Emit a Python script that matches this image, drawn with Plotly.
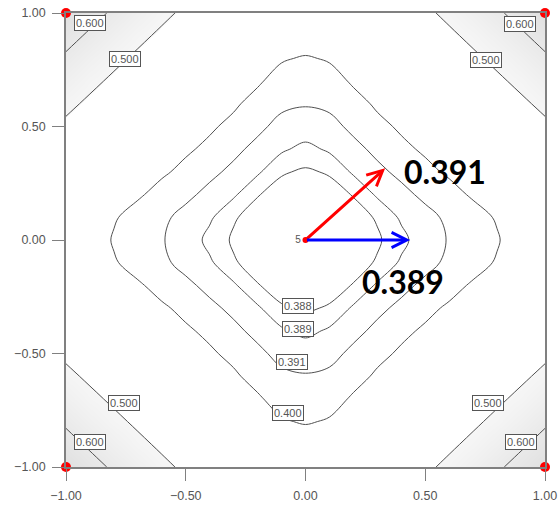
import numpy as np
import plotly.graph_objects as go

# Contour levels shown on the chart
levels = [0.388, 0.389, 0.391, 0.400, 0.500, 0.600]

# Response on a 0.1 grid over one quadrant
# (rows: |B| = 0.0 .. 1.0, columns: |A| = 0.0 .. 1.0); the surface is symmetric about both axes
quad_coords = [0.0, 0.1, 0.2, 0.3, 0.4, 0.5, 0.6, 0.7, 0.8, 0.9, 1.0]
quad_z = [
    [0.38710, 0.38713, 0.38738, 0.38785, 0.38866, 0.38974, 0.39119, 0.39433, 0.39917, 0.40563, 0.41436],
    [0.38713, 0.38722, 0.38756, 0.38811, 0.38918, 0.39034, 0.39144, 0.39659, 0.40085, 0.40975, 0.41962],
    [0.38738, 0.38756, 0.38806, 0.38917, 0.39041, 0.39148, 0.39706, 0.40114, 0.41066, 0.42077, 0.43307],
    [0.38785, 0.38811, 0.38917, 0.39051, 0.39150, 0.39787, 0.40126, 0.41232, 0.42286, 0.43556, 0.45037],
    [0.38866, 0.38918, 0.39041, 0.39150, 0.39818, 0.40120, 0.41331, 0.42415, 0.43712, 0.45218, 0.46926],
    [0.38974, 0.39034, 0.39148, 0.39787, 0.40120, 0.41361, 0.42469, 0.43783, 0.45303, 0.47023, 0.48939],
    [0.39119, 0.39144, 0.39706, 0.40126, 0.41331, 0.42469, 0.43803, 0.45335, 0.47063, 0.48985, 0.51289],
    [0.39433, 0.39659, 0.40114, 0.41232, 0.42415, 0.43783, 0.45335, 0.47074, 0.49001, 0.51315, 0.54800],
    [0.39917, 0.40085, 0.41066, 0.42286, 0.43712, 0.45303, 0.47063, 0.49001, 0.51322, 0.54812, 0.58817],
    [0.40563, 0.40975, 0.42077, 0.43556, 0.45218, 0.47023, 0.48985, 0.51315, 0.54812, 0.58821, 0.62772],
    [0.41436, 0.41962, 0.43307, 0.45037, 0.46926, 0.48939, 0.51289, 0.54800, 0.58817, 0.62772, 0.66997],
]

# Design points: four factorial corners and the centre point (5 replicates)
corner_x = [-1, 1, -1, 1]
corner_y = [1, 1, -1, -1]
center_x = [0]
center_y = [0]
center_label = ['5']

# Contour label boxes: text, A, B
label_text = ["0.600", "0.500", "0.600", "0.500", "0.500", "0.600", "0.500", "0.600",
              "0.388", "0.389", "0.391", "0.400"]
label_x = [-0.90, -0.752, 0.896, 0.752, -0.758, -0.901, 0.762, 0.898, -0.033, -0.030, -0.058, -0.074]
label_y = [0.956, 0.796, 0.953, 0.794, -0.716, -0.892, -0.716, -0.892, -0.289, -0.390, -0.537, -0.763]

# Direction arrows and their values
arrow_end_x = [0.3325, 0.437]
arrow_end_y = [0.316, 0.0]
arrow_colors = ['#ff0000', '#0000ff']
value_text = ['0.391', '0.389']
value_x = [0.583, 0.409]
value_y = [0.302, -0.184]

tick_vals = [-1, -0.5, 0, 0.5, 1]

# Build the full grid (mirror the quadrant on both axes)
idx = [abs(i) for i in range(-10, 11)]
grid = [(-quad_coords[abs(i)] if i < 0 else quad_coords[i]) for i in range(-10, 11)]
Z = np.array(quad_z)[np.ix_(idx, idx)]

fig = go.Figure()
fig.add_trace(go.Heatmap(x=grid, y=grid, z=Z, zsmooth='best', showscale=False,
                         zmin=0.3871, zmax=0.67,
                         colorscale=[[0, 'white'], [0.395, 'white'], [0.40, '#f6f6f6'], [1, '#e0e0e0']],
                         hoverinfo='skip'))
for L in levels:
    fig.add_trace(go.Contour(x=grid, y=grid, z=Z, showscale=False,
                             contours=dict(start=L, end=L, size=1, coloring='none'),
                             line=dict(color='#505050', width=1, smoothing=1), hoverinfo='skip'))

fig.add_trace(go.Scatter(x=corner_x, y=corner_y, mode='markers',
                         marker=dict(color='red', size=10), cliponaxis=False, hoverinfo='skip'))
fig.add_trace(go.Scatter(x=center_x, y=center_y, mode='markers+text', text=center_label,
                         textposition='middle left',
                         textfont=dict(size=10, color='#555', family='Liberation Sans'),
                         marker=dict(color='red', size=6), cliponaxis=False, hoverinfo='skip'))

for t, x, y in zip(label_text, label_x, label_y):
    fig.add_annotation(x=x, y=y, text=t, showarrow=False, bgcolor='white', bordercolor='#555',
                       borderwidth=1, borderpad=1,
                       font=dict(size=11, color='#555', family='Liberation Sans'))

for x, y, c in zip(arrow_end_x, arrow_end_y, arrow_colors):
    fig.add_annotation(x=x, y=y, ax=center_x[0], ay=center_y[0], axref='x', ayref='y', xref='x', yref='y',
                       text='', showarrow=True, arrowhead=5, arrowsize=1, arrowwidth=3, arrowcolor=c)

for t, x, y in zip(value_text, value_x, value_y):
    fig.add_annotation(x=x, y=y, text='<b>' + t + '</b>', showarrow=False,
                       font=dict(size=32, color='black', family='Lato'))

axis = dict(range=[-1, 1], tickvals=tick_vals, tickformat='.2f', ticks='outside', ticklen=12,
            tickcolor='#808080', showline=True, linecolor='#808080', linewidth=1.5, mirror=True,
            showgrid=False, zeroline=False, automargin=False, ticklabelstandoff=4,
            tickfont=dict(size=12.5, color='#555', family='Liberation Sans'))
fig.update_layout(width=558, height=507, margin=dict(l=66, r=13, t=13, b=40), showlegend=False,
                  plot_bgcolor='white', paper_bgcolor='white', xaxis=axis, yaxis=axis)
fig.write_html("out.html")
